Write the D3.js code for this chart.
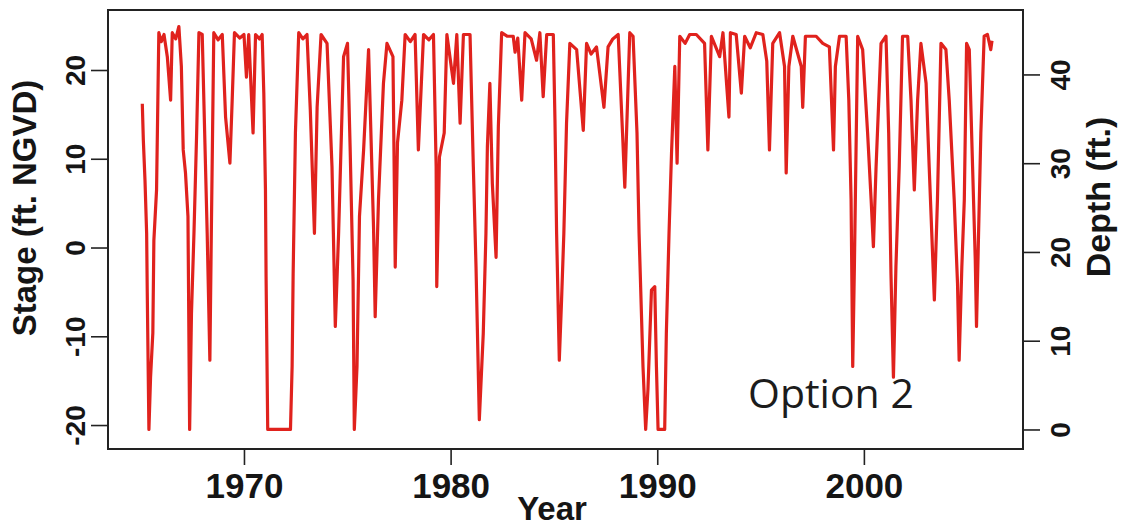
<!DOCTYPE html>
<html lang="en">
  <head>
    <meta charset="UTF-8" />
    <title>Stage and depth, Option 2</title>
    <style>
      body {
        margin: 0;
        overflow: hidden;
        background: #fff;
      }
      .tick line {
        stroke: #222;
        stroke-width: 1.6px;
      }
      .tick text {
        font-family: "Liberation Sans", Arial, sans-serif;
        font-weight: bold;
        fill: #151515;
      }
    </style>
    <script src="https://unpkg.com/d3@7.8.1/dist/d3.min.js"></script>
  </head>
  <body>
    <script>
      const { select, scaleLinear, axisLeft, axisRight, axisBottom, line } = d3;

//Data
      const years = [
        1965.08, 1965.13, 1965.21, 1965.29, 1965.32, 1965.40, 1965.48, 1965.59, 1965.64, 1965.77,
        1965.88, 1966.00, 1966.13, 1966.29, 1966.45, 1966.53, 1966.70, 1966.85, 1966.97, 1967.06,
        1967.17, 1967.29, 1967.37, 1967.46, 1967.58, 1967.71, 1967.82, 1967.98, 1968.11, 1968.22,
        1968.35, 1968.42, 1968.54, 1968.75, 1968.95, 1969.11, 1969.32, 1969.43, 1969.54, 1969.80,
        1970.00, 1970.12, 1970.23, 1970.44, 1970.56, 1970.75, 1970.88, 1970.96, 1971.04, 1971.07,
        1971.15, 1972.25, 1972.33, 1972.38, 1972.49, 1972.65, 1972.85, 1973.05, 1973.21, 1973.41,
        1973.54, 1973.73, 1974.02, 1974.26, 1974.42, 1974.58, 1974.82, 1975.01, 1975.14, 1975.28,
        1975.34, 1975.47, 1975.59, 1975.79, 1976.03, 1976.27, 1976.35, 1976.51, 1976.75, 1976.92,
        1977.21, 1977.32, 1977.43, 1977.64, 1977.80, 1978.05, 1978.28, 1978.44, 1978.69, 1978.95,
        1979.17, 1979.30, 1979.33, 1979.46, 1979.69, 1979.82, 1980.14, 1980.30, 1980.46, 1980.62,
        1980.94, 1981.10, 1981.23, 1981.39, 1981.58, 1981.71, 1981.78, 1981.90, 1982.02, 1982.20,
        1982.31, 1982.47, 1982.75, 1983.03, 1983.12, 1983.25, 1983.44, 1983.60, 1983.90, 1984.16,
        1984.32, 1984.48, 1984.65, 1984.97, 1985.05, 1985.13, 1985.26, 1985.37, 1985.48, 1985.61,
        1985.77, 1986.10, 1986.42, 1986.58, 1986.80, 1987.06, 1987.22, 1987.42, 1987.62, 1987.85,
        1988.11, 1988.32, 1988.43, 1988.67, 1988.83, 1989.02, 1989.12, 1989.31, 1989.44, 1989.55,
        1989.72, 1989.88, 1989.96, 1990.04, 1990.36, 1990.44, 1990.57, 1990.69, 1990.85, 1990.96,
        1991.09, 1991.35, 1991.57, 1991.89, 1992.29, 1992.45, 1992.62, 1993.02, 1993.18, 1993.47,
        1993.54, 1993.82, 1994.07, 1994.23, 1994.50, 1994.79, 1995.11, 1995.30, 1995.43, 1995.59,
        1995.92, 1996.16, 1996.24, 1996.37, 1996.56, 1996.97, 1997.04, 1997.17, 1997.69, 1998.01,
        1998.33, 1998.53, 1998.62, 1998.82, 1999.14, 1999.27, 1999.38, 1999.46, 1999.54, 1999.62,
        1999.70, 1999.94, 2000.18, 2000.35, 2000.46, 2000.59, 2000.72, 2000.83, 2001.07, 2001.20,
        2001.31, 2001.43, 2001.55, 2001.71, 2001.87, 2002.12, 2002.28, 2002.44, 2002.60, 2002.76,
        2003.01, 2003.16, 2003.41, 2003.56, 2003.73, 2003.97, 2004.13, 2004.37, 2004.53, 2004.61,
        2004.74, 2004.86, 2004.97, 2005.10, 2005.26, 2005.39, 2005.45, 2005.55, 2005.66, 2005.82,
        2005.98, 2006.14, 2006.20
      ];
      const stage = [
        16.2, 12.1, 7.6, 1.6, -5.1, -20.5, -14.6, -9.6, 0.8, 6.5,
        24.2, 23.2, 24.0, 21.5, 16.6, 24.2, 23.5, 24.9, 20.4, 11.0,
        8.4, 3.5, -20.5, -7.4, 1.6, 12.9, 24.2, 24.0, 11.8, 1.6,
        -12.7, 1.6, 24.2, 23.4, 24.0, 14.7, 9.5, 16.6, 24.2, 23.6,
        24.0, 19.2, 24.0, 12.9, 24.0, 23.5, 24.0, 17.4, 6.5, -3.3,
        -20.5, -20.5, -13.4, -2.9, 12.9, 24.2, 23.5, 24.0, 15.5, 1.6,
        15.8, 24.0, 23.0, 9.1, -8.9, 1.6, 21.5, 23.0, 11.0, -3.7,
        -20.5, -13.4, 3.5, 11.0, 22.3, 2.3, -7.8, 5.4, 18.5, 23.0,
        21.5, -2.2, 11.8, 16.6, 24.0, 23.2, 24.0, 11.0, 24.0, 23.4,
        24.0, 9.1, -4.4, 10.2, 12.9, 24.0, 18.5, 24.0, 14.0, 24.0,
        24.0, 9.1, -2.2, -19.4, -9.7, 1.6, 11.4, 18.5, 7.2, -1.1,
        13.6, 24.2, 23.8, 23.8, 22.0, 23.6, 16.6, 24.2, 23.5, 21.1,
        24.2, 17.0, 24.0, 24.0, 14.4, 1.6, -12.7, -5.9, 1.6, 14.0,
        23.0, 22.3, 13.2, 23.0, 21.8, 22.6, 19.6, 15.8, 22.6, 23.5,
        24.0, 12.9, 6.8, 24.2, 23.8, 12.9, 1.6, -13.4, -20.5, -16.0,
        -4.8, -4.4, -13.4, -20.5, -20.5, -9.7, 1.6, 10.6, 20.4, 9.5,
        23.8, 23.0, 24.0, 24.0, 23.0, 11.0, 23.8, 21.5, 24.2, 14.7,
        24.2, 24.0, 17.4, 23.8, 22.5, 24.2, 24.0, 21.0, 11.0, 23.0,
        24.2, 20.4, 8.4, 20.4, 23.8, 20.4, 15.8, 23.8, 23.8, 23.0,
        22.6, 11.0, 20.4, 23.8, 23.8, 16.6, 5.4, -13.4, -2.2, 11.0,
        23.8, 22.3, 12.9, 5.4, 0.1, 9.1, 16.6, 23.0, 23.8, 12.9,
        -2.9, -14.6, -2.2, 9.1, 23.8, 23.8, 16.6, 6.5, 16.6, 23.0,
        18.5, 9.1, -5.9, 5.4, 23.0, 22.3, 16.6, 5.4, -4.0, -12.7,
        -2.2, 5.4, 23.0, 22.3, 9.1, -1.4, -8.9, 1.6, 12.9, 23.8,
        24.0, 22.3, 23.3
      ];

      const yearTicks = [1970, 1980, 1990, 2000];
      const stageTicks = [-20, -10, 0, 10, 20];
      const depthTicks = [0, 10, 20, 30, 40];
      const bottomStage = -20.5; // depth 0 sits at this stage

//Layout
      const width = 1124;
      const height = 526;
      const margin = { top: 10, right: 101, bottom: 77, left: 108 };
      const tickLen = 17;
      const plain = d => String(d); // hyphen minus, as in the original

      const svg = select("body")
        .append("svg")
        .attr("width", width)
        .attr("height", height);

      const x = scaleLinear()
        .domain([1963.42, 2007.7])
        .range([margin.left, width - margin.right]);

      const y = scaleLinear()
        .domain([-22.7, 26.76])
        .range([height - margin.bottom, margin.top]);

      // right axis is the same scale shifted by the bottom elevation
      const yDepth = scaleLinear()
        .domain(y.domain().map(v => v - bottomStage))
        .range(y.range());

      const data = years.map((yr, i) => ({ year: yr, stage: stage[i] }));

      const path = line()
        .x(d => x(d.year))
        .y(d => y(d.stage));

      svg.append("path")
        .datum(data)
        .attr("fill", "none")
        .attr("stroke", "#e0221d")
        .attr("stroke-width", 3.2)
        .attr("stroke-linejoin", "round")
        .attr("d", path);

      // frame
      svg.append("rect")
        .attr("x", margin.left)
        .attr("y", margin.top)
        .attr("width", width - margin.right - margin.left)
        .attr("height", height - margin.bottom - margin.top)
        .attr("fill", "none")
        .attr("stroke", "#222")
        .attr("stroke-width", 2);

      // left axis
      const gl = svg.append("g")
        .attr("transform", `translate(${margin.left},0)`)
        .call(axisLeft(y).tickValues(stageTicks).tickFormat(plain).tickSize(tickLen).tickSizeOuter(0));
      gl.select(".domain").remove();
      gl.selectAll(".tick text")
        .attr("x", null)
        .attr("dy", null)
        .attr("text-anchor", "middle")
        .attr("font-size", 28)
        .attr("transform", "translate(-23,0) rotate(-90)");

      // right axis
      const gr = svg.append("g")
        .attr("transform", `translate(${width - margin.right},0)`)
        .call(axisRight(yDepth).tickValues(depthTicks).tickFormat(plain).tickSize(tickLen).tickSizeOuter(0));
      gr.select(".domain").remove();
      gr.selectAll(".tick text")
        .attr("x", null)
        .attr("dy", null)
        .attr("text-anchor", "middle")
        .attr("font-size", 28)
        .attr("transform", "translate(47,0) rotate(-90)");

      // bottom axis
      const gb = svg.append("g")
        .attr("transform", `translate(0,${height - margin.bottom})`)
        .call(axisBottom(x).tickValues(yearTicks).tickFormat(plain).tickSize(tickLen - 1).tickSizeOuter(0));
      gb.select(".domain").remove();
      gb.selectAll(".tick text")
        .attr("y", 49)
        .attr("dy", null)
        .attr("font-size", 35);

      // axis titles
      const titleFont = "'Liberation Sans', Arial, sans-serif";
      svg.append("text")
        .attr("transform", "translate(36,208) rotate(-90)")
        .attr("text-anchor", "middle")
        .attr("font-family", titleFont)
        .attr("font-weight", "bold")
        .attr("font-size", 33)
        .attr("fill", "#151515")
        .text("Stage (ft. NGVD)");

      svg.append("text")
        .attr("transform", "translate(1110,197) rotate(-90)")
        .attr("text-anchor", "middle")
        .attr("font-family", titleFont)
        .attr("font-weight", "bold")
        .attr("font-size", 34)
        .attr("fill", "#151515")
        .text("Depth (ft.)");

      svg.append("text")
        .attr("x", 552)
        .attr("y", 520)
        .attr("text-anchor", "middle")
        .attr("font-family", titleFont)
        .attr("font-weight", "bold")
        .attr("font-size", 33)
        .attr("fill", "#151515")
        .text("Year");

      // panel label
      svg.append("text")
        .attr("x", 748)
        .attr("y", 408)
        .attr("font-family", "'Open Sans', sans-serif")
        .attr("font-size", 41)
        .attr("fill", "#1c1c1c")
        .text("Option 2");
    </script>
  </body>
</html>
